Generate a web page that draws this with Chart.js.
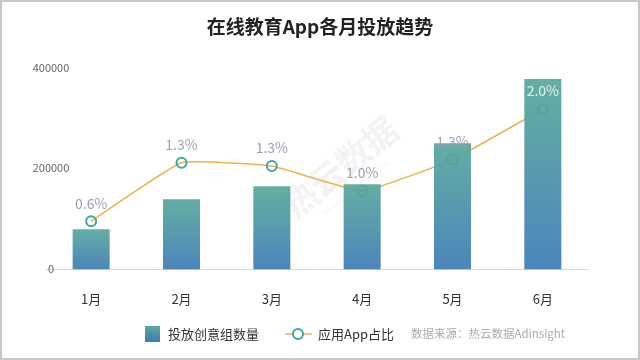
<!DOCTYPE html>
<html>
<head>
<meta charset="utf-8">
<script src="https://cdn.jsdelivr.net/npm/chart.js@4"></script>
<style>
  html, body { margin: 0; padding: 0; background: #fff; }
  #wrap { width: 640px; height: 360px; position: relative; }
</style>
</head>
<body>
<div id="wrap"><canvas id="c" width="640" height="360"></canvas></div>
<script>
// data
const months = ["1月", "2月", "3月", "4月", "5月", "6月"];
const creativeCounts = [80000, 140000, 166000, 170000, 252000, 380000];
const appShare = [0.60, 1.33, 1.29, 0.98, 1.37, 2.0];
const shareLabels = ["0.6%", "1.3%", "1.3%", "1.0%", "1.3%", "2.0%"];
const yTicks = [0, 200000, 400000];

const FONT = "'Noto Sans CJK SC', 'Noto Sans', sans-serif";

function barGradient(ctx) {
    const chart = ctx.chart;
    if (!chart.chartArea || ctx.parsed == null) return "rgba(75,145,170,0.92)";
    const y = chart.scales.y;
    const top = y.getPixelForValue(ctx.parsed.y);
    const base = y.getPixelForValue(0);
    const g = chart.ctx.createLinearGradient(0, top, 0, base);
    g.addColorStop(0, "rgba(88,168,156,0.93)");
    g.addColorStop(1, "rgba(62,124,182,0.93)");
    return g;
}

// frame, title, watermark, y tick labels, legend + source note
const decor = {
    id: "decor",
    beforeDatasetsDraw(chart) {
        const c = chart.ctx;
        c.save();
        c.translate(340, 167);
        c.rotate(-0.68);
        c.fillStyle = "rgba(170,170,185,0.15)";
        c.font = "bold 34px " + FONT;
        c.textAlign = "center";
        c.textBaseline = "middle";
        c.fillText("热云数据", 0, 0);
        c.font = "8px " + FONT;
        c.fillText("More Data  More Value", 0, 26);
        c.restore();

        // y tick labels, centred under one another near the plot's left edge
        const ys = chart.scales.y;
        c.save();
        c.fillStyle = "#666";
        c.font = "11px " + FONT;
        c.textAlign = "center";
        c.textBaseline = "middle";
        yTicks.forEach(v => c.fillText(String(v), 51, ys.getPixelForValue(v) - 1));
        c.restore();
    },
    afterDraw(chart) {
        const c = chart.ctx;
        c.save();
        c.strokeStyle = "#c8c8c8";
        c.lineWidth = 2;
        c.strokeRect(1, 1, 638, 358);

        c.fillStyle = "#222";
        c.font = "bold 19px " + FONT;
        c.textAlign = "center";
        c.textBaseline = "middle";
        c.fillText("在线教育App各月投放趋势", 320, 27);

        // legend
        const ly = 334;
        const g = c.createLinearGradient(0, ly - 8, 0, ly + 8);
        g.addColorStop(0, "#58a89c");
        g.addColorStop(1, "#3e7cb6");
        c.fillStyle = g;
        c.fillRect(145, ly - 8, 15, 16);
        c.textAlign = "left";
        c.fillStyle = "#333";
        c.font = "13px " + FONT;
        c.fillText("投放创意组数量", 168, ly);

        c.strokeStyle = "#f0b04a";
        c.lineWidth = 1.5;
        c.beginPath();
        c.moveTo(285, ly);
        c.lineTo(312, ly);
        c.stroke();
        c.strokeStyle = "#3aa89f";
        c.lineWidth = 2;
        c.fillStyle = "#fff";
        c.beginPath();
        c.arc(298, ly, 5, 0, Math.PI * 2);
        c.fill();
        c.stroke();
        c.fillStyle = "#333";
        c.fillText("应用App占比", 318, ly);

        c.fillStyle = "#aaa";
        c.font = "11.5px " + FONT;
        c.fillText("数据来源：热云数据Adinsight", 411, ly);
        c.restore();
    },
    afterDatasetsDraw(chart) {
        const c = chart.ctx;
        const line = chart.getDatasetMeta(1).data;
        const bars = chart.getDatasetMeta(0).data;
        c.save();
        c.font = "14px " + FONT;
        c.textAlign = "center";
        c.textBaseline = "middle";
        line.forEach((pt, i) => {
            const ty = pt.y - 18;
            c.fillStyle = ty > bars[i].y + 6 ? "rgba(235,245,245,0.95)" : "#9d9db6";
            c.fillText(shareLabels[i], pt.x, ty);
        });
        c.restore();
    }
};

new Chart(document.getElementById("c"), {
    data: {
        labels: months,
        datasets: [
            {
                type: "bar",
                label: "投放创意组数量",
                data: creativeCounts,
                backgroundColor: barGradient,
                categoryPercentage: 1,
                barPercentage: 0.41,
                order: 1,
                yAxisID: "y"
            },
            {
                type: "line",
                label: "应用App占比",
                data: appShare,
                borderColor: "#f0b04a",
                borderWidth: 1.5,
                tension: 0.12,
                pointRadius: 5,
                pointBorderWidth: 2,
                pointBorderColor: "#3aa89f",
                pointBackgroundColor: "rgba(255,255,255,0)",
                order: 2,
                yAxisID: "y1"
            }
        ]
    },
    options: {
        responsive: false,
        animation: false,
        layout: { padding: { top: 69, right: 52, bottom: 39, left: 46 } },
        plugins: { legend: { display: false }, tooltip: { enabled: false }, title: { display: false } },
        scales: {
            x: {
                grid: { display: false },
                border: { display: true, color: "#d8d8d8", width: 1 },
                ticks: { color: "#333", font: { family: FONT, size: 13 }, padding: 14 }
            },
            y: { display: false, min: 0, max: 400000 },
            y1: { display: false, min: 0, max: 2.5 }
        }
    },
    plugins: [decor]
});
</script>
</body>
</html>
